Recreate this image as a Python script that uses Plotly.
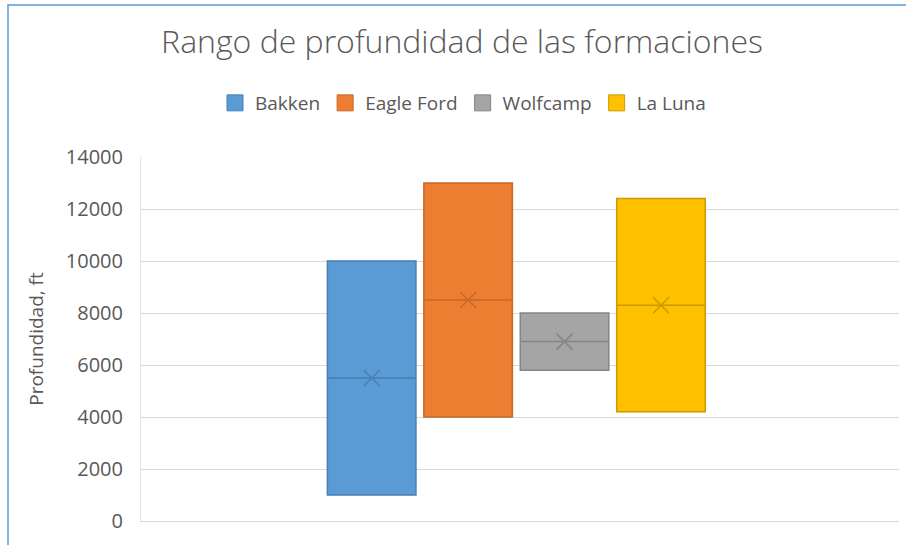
import plotly.graph_objects as go

# ---- data ----
formations = ["Bakken", "Eagle Ford", "Wolfcamp", "La Luna"]
depth_min = [1000, 4000, 5800, 4200]
depth_max = [10000, 13000, 8000, 12400]
depth_median = [5500, 8500, 6900, 8300]
depth_mean = [5500, 8500, 6900, 8300]
y_ticks = [0, 2000, 4000, 6000, 8000, 10000, 12000, 14000]

fill_colors = ["#5B9BD5", "#ED7D31", "#A5A5A5", "#FFC000"]
edge_colors = ["#4A7FB3", "#C8672A", "#858585", "#CC9A00"]

FONT = "Open Sans"
TXT = "#595959"

fig = go.Figure()

for name, lo, hi, med, fc, ec in zip(formations, depth_min, depth_max, depth_median,
                                     fill_colors, edge_colors):
    fig.add_trace(go.Box(
        x=[name], q1=[lo], median=[med], q3=[hi],
        lowerfence=[lo], upperfence=[hi],
        fillcolor=fc, line=dict(color=ec, width=1.5),
        name=name, showlegend=False, hoverinfo="y",
    ))

fig.add_trace(go.Scatter(
    x=formations, y=depth_mean, mode="markers", showlegend=False,
    marker=dict(symbol="x-thin-open", size=16,
                line=dict(color=edge_colors, width=1.6), color=edge_colors),
    hoverinfo="y",
))

# legend entries (square swatches)
for name, fc, ec in zip(formations, fill_colors, edge_colors):
    fig.add_trace(go.Scatter(
        x=[None], y=[None], mode="markers", name=name,
        marker=dict(symbol="square", size=20, color=fc, line=dict(color=ec, width=1)),
    ))

# plot area geometry (px)
L, R, T, B = 141, 899, 157, 521
W, H = 906, 545
pw, ph = R - L, B - T

fig.update_layout(
    width=W, height=H,
    margin=dict(l=L, r=W - R, t=T, b=H - B, pad=0),
    paper_bgcolor="white", plot_bgcolor="white",
    font=dict(family=FONT, color=TXT, size=19),
    title=dict(text="Rango de profundidad de las formaciones",
               x=462 / W, xanchor="center", y=1 - 42 / H, yanchor="middle",
               font=dict(family=FONT, size=32, color=TXT, weight=300)),
    legend=dict(orientation="h", x=(463 - L) / pw, xanchor="center",
                y=1 + (T - 103) / ph, yanchor="middle",
                font=dict(size=19, color=TXT), bgcolor="rgba(0,0,0,0)"),
    boxmode="overlay", boxgap=0.082, boxgroupgap=0,
    xaxis=dict(type="category", categoryorder="array", categoryarray=formations,
               range=[-2.392, 5.468], showticklabels=False, showgrid=False,
               showline=True, linecolor="#D9D9D9", linewidth=1, ticks="",
               zeroline=False, fixedrange=True),
    yaxis=dict(range=[0, 14000], tickvals=y_ticks, ticktext=[str(v) for v in y_ticks],
               showgrid=True, gridcolor="#D9D9D9", gridwidth=1,
               showline=True, linecolor="#E6E6E6", linewidth=1,
               zeroline=False, ticks="", ticklabelstandoff=13,
               tickfont=dict(size=20, color=TXT),
               title=dict(text="Profundidad, ft", standoff=17,
                          font=dict(size=19, color=TXT))),
    shapes=[dict(type="rect", xref="paper", yref="paper",
                 x0=(8 - L) / pw, x1=1.5, y0=-1.0, y1=1 + (T - 5) / ph,
                 line=dict(color="#5B9BD5", width=1.5), fillcolor="rgba(0,0,0,0)",
                 layer="above")],
)

fig.write_html("out.html", config={"displayModeBar": False},
               post_script="document.body.style.margin='0';document.body.style.overflow='hidden';")
